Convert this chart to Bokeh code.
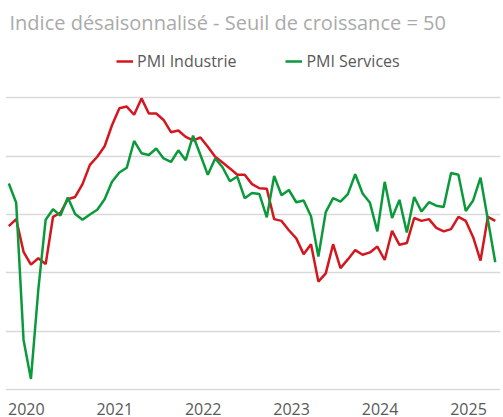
from bokeh.plotting import figure
from bokeh.models import Range1d, Grid, FixedTicker, Label, ColumnDataSource
from bokeh.core.properties import value
from bokeh.embed import file_html
from bokeh.resources import INLINE

# ---- data (monthly, Jan 2020 - Jul 2025) ----
industrie = [
    48.0, 49.2, 43.6, 41.4, 42.5, 41.5, 49.6, 50.3, 52.6, 53.0, 55.2, 58.5,  # 2020
    59.9, 61.7, 65.3, 68.2, 68.5, 67.1, 69.9, 67.3, 67.3, 66.2, 64.1, 64.4,  # 2021
    63.3, 62.7, 63.2, 61.6, 59.9, 58.9, 57.9, 56.8, 56.8, 55.2, 54.5, 54.4,  # 2022
    49.2, 48.9, 47.3, 45.9, 43.2, 44.9, 38.5, 39.9, 44.9, 40.8, 42.3, 43.9,  # 2023
    43.1, 43.5, 44.5, 42.2, 47.2, 44.8, 45.1, 49.4, 48.9, 49.2, 47.7, 47.1,  # 2024
    47.5, 49.6, 48.9, 46.1, 42.1, 49.6, 48.9,                                # 2025
]
services = [
    55.3, 52.0, 28.5, 21.8, 37.1, 49.1, 50.9, 49.8, 52.9, 50.1, 49.1, 50.0,  # 2020
    50.8, 52.6, 55.6, 57.2, 58.0, 62.6, 60.5, 60.2, 61.3, 59.6, 59.0, 61.0,  # 2021
    59.3, 63.5, 60.2, 56.8, 59.6, 58.1, 55.7, 56.5, 52.8, 53.7, 53.5, 49.5,  # 2022
    56.6, 53.3, 54.2, 52.1, 52.4, 49.7, 42.8, 50.4, 52.8, 52.2, 53.5, 56.9,  # 2023
    53.6, 52.0, 47.1, 55.6, 49.4, 52.5, 46.9, 53.0, 50.5, 52.1, 51.5, 51.3,  # 2024
    57.1, 56.8, 50.6, 52.4, 56.3, 49.1, 41.8,                                # 2025
]
annees = ["2020", "2021", "2022", "2023", "2024", "2025"]
seuils_grille = [20, 30, 40, 50, 60, 70]
titre = "Indice désaisonnalisé - Seuil de croissance = 50"
series_noms = ["PMI Industrie", "PMI Services"]

mois = list(range(len(industrie)))

RED = "#d4161e"
GREEN = "#0b9a3b"
TXT = "#595959"

p = figure(width=503, height=417,
           x_range=Range1d(-0.45, 66.71), y_range=Range1d(15.2, 86.68),
           x_axis_location=None, y_axis_location=None,
           output_backend="svg", toolbar_location=None,
           min_border=0, min_border_left=5, min_border_right=3)
p.outline_line_color = None
p.background_fill_color = "white"
p.border_fill_color = "white"
for g in p.grid:
    g.visible = False

p.add_layout(Grid(dimension=1, ticker=FixedTicker(ticks=seuils_grille),
                  grid_line_color="#d9d9d9", grid_line_width=1.5))

p.line(mois, industrie, color=RED, line_width=2.5, legend_label=series_noms[0])
p.line(mois, services, color=GREEN, line_width=2.5, legend_label=series_noms[1])

# year labels along the bottom
src = ColumnDataSource(dict(x=[12 * k + 2.37 for k in range(len(annees))],
                            y=[17.75] * len(annees), text=annees))
p.text("x", "y", "text", source=src, text_font=value("Open Sans"),
       text_font_size="16px", text_color=TXT, text_align="center",
       text_baseline="top")

# title
p.add_layout(Label(x=4, y=395, x_units="screen", y_units="screen", text=titre,
                   text_font="Open Sans", text_font_size="20px",
                   text_color="#aaaaaa", text_baseline="alphabetic"))

lg = p.legend[0]
lg.orientation = "horizontal"
lg.location = (111, 345)
lg.padding = 0
lg.margin = 0
lg.spacing = 49
lg.glyph_width = 17
lg.glyph_height = 20
lg.label_height = 20
lg.label_standoff = 4
lg.border_line_color = None
lg.background_fill_alpha = 0
lg.label_text_font = "Open Sans"
lg.label_text_font_size = "16px"
lg.label_text_color = TXT

open("out.html", "w").write(file_html(p, INLINE))
